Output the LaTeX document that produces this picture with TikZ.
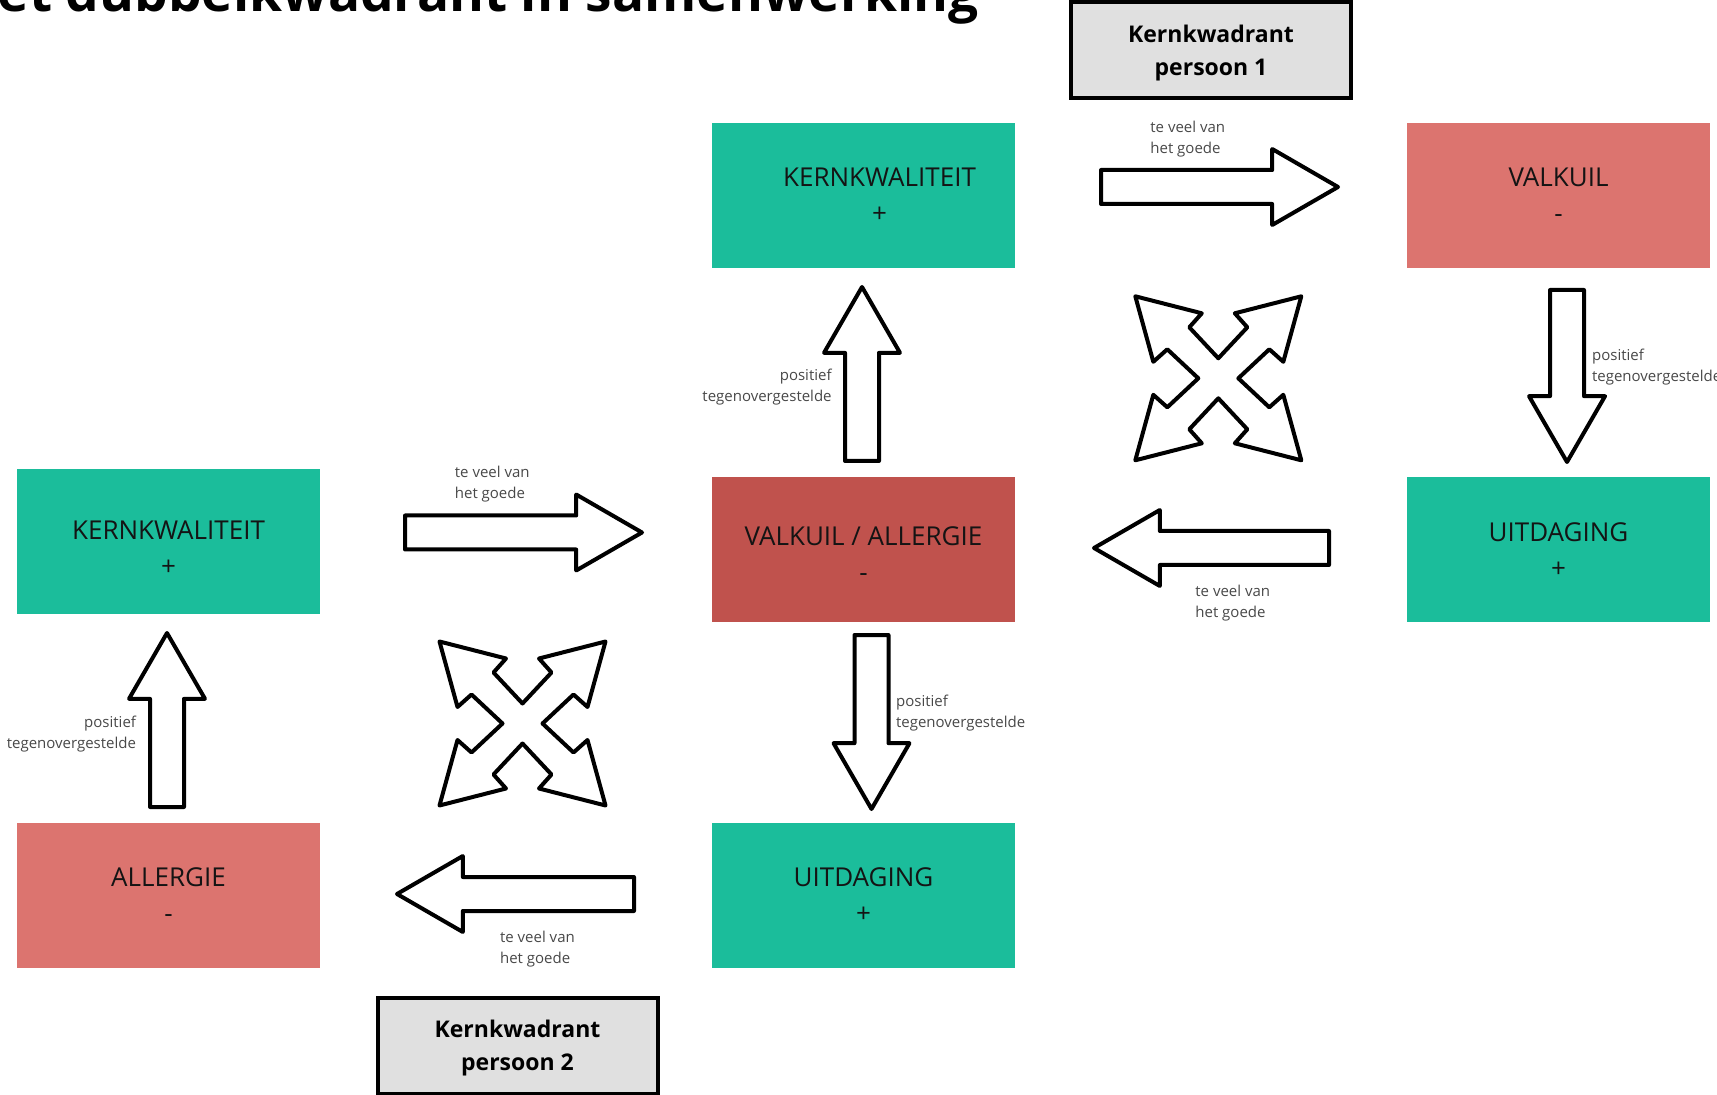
\documentclass[tikz,border=0pt]{standalone}
\usepackage{fontspec}
\setmainfont{Open Sans}
\usepackage{xcolor}
\usepackage{tikz}
\usetikzlibrary{shapes.arrows, calc}
\definecolor{kerngroen}{RGB}{27,189,155}
\definecolor{valkuilrood}{RGB}{220,116,111}
\definecolor{allergierood}{RGB}{192,82,77}
\definecolor{kadergrijs}{RGB}{224,224,224}
\definecolor{uitleggrijs}{RGB}{72,72,72}

\tikzset{
  kwadrant/.style={rectangle, minimum width=151.5pt, minimum height=72.5pt, inner sep=0pt},
  kwtekst/.style={align=center, inner sep=0pt, font=\fontsize{13}{18}\selectfont, text=black!92},
  kopkader/.style={rectangle, draw=black, line width=2pt, fill=kadergrijs, minimum width=140pt,
    minimum height=48pt, inner sep=0pt, text depth=0pt, align=center,
    font=\fontsize{11.5}{16.5}\selectfont\bfseries},
  blokpijl/.style={single arrow, draw=black, fill=white, line width=2pt, line join=round,
    inner sep=7.5pt, outer sep=0pt, minimum width=36pt, single arrow head extend=10.5pt,
    single arrow tip angle=60, anchor=tip},
  uitleg/.style={font=\fontsize{7.5}{10.5}\selectfont, text=uitleggrijs, inner sep=0pt}
}

\begin{document}
\begin{tikzpicture}[x=0.5pt, y=-0.5pt]
        % Page frame
        \useasboundingbox (0,0) rectangle (1717,1095);
        \clip (0,0) rectangle (1717,1095);

        % Title (cut off at the top)
        \node[anchor=base east, inner sep=0pt, font=\fontsize{26.6}{30}\selectfont\bfseries] (titel) at (979,11.5)
            {Het dubbelkwadrant in samenwerking};

        % Headers
        \node[kopkader] (kop1) at (1211,50) {Kernkwadrant\\persoon 1};
        \node[kopkader] (kop2) at (517.5,1045.5) {Kernkwadrant\\persoon 2};

        % Quadrant boxes, person 1
        \node[kwadrant, fill=kerngroen] (kern1) at (863.5,195.5) {};
        \node[kwadrant, fill=valkuilrood] (valkuil1) at (1558.5,195.5) {};
        \node[kwadrant, fill=allergierood] (valkuil2) at (863.5,550) {};
        \node[kwadrant, fill=kerngroen] (uitdaging1) at (1558.5,550) {};

        % Quadrant boxes, person 2
        \node[kwadrant, fill=kerngroen] (kern2) at (168.5,541.5) {};
        \node[kwadrant, fill=valkuilrood] (allergie2) at (168.5,895.5) {};
        \node[kwadrant, fill=kerngroen] (uitdaging2) at (863.5,895.5) {};

        % Box texts
        \node[kwtekst] (kern1tekst) at (879.5,195.5) {KERNKWALITEIT\\+};
        \node[kwtekst] (valkuil1tekst) at (valkuil1) {VALKUIL\\-};
        \node[kwtekst] (valkuil2tekst) at (863.5,554.5) {VALKUIL / ALLERGIE\\-};
        \node[kwtekst] (uitdaging1tekst) at (uitdaging1) {UITDAGING\\+};
        \node[kwtekst] (kern2tekst) at (168.5,548) {KERNKWALITEIT\\+};
        \node[kwtekst] (allergie2tekst) at (allergie2) {ALLERGIE\\-};
        \node[kwtekst] (uitdaging2tekst) at (uitdaging2) {UITDAGING\\+};

        % Block arrows (placed by their tips)
        \node[blokpijl, minimum height=118.5pt] (pijl1) at (1338,187) {};
        \node[blokpijl, minimum height=118.5pt] (pijl2) at (642,532.5) {};
        \node[blokpijl, minimum height=117.5pt, shape border rotate=180] (pijl3) at (1094,548) {};
        \node[blokpijl, minimum height=118.5pt, shape border rotate=180] (pijl4) at (397,894) {};
        \node[blokpijl, minimum height=87pt, shape border rotate=90] (pijl5) at (862,287) {};
        \node[blokpijl, minimum height=86pt, shape border rotate=270] (pijl6) at (1567,462) {};
        \node[blokpijl, minimum height=87pt, shape border rotate=270] (pijl7) at (871.5,809) {};
        \node[blokpijl, minimum height=87pt, shape border rotate=90] (pijl8) at (167,633) {};

        % Four-way arrows
        \foreach \cx/\cy in {1218.3/378.3, 522.5/723.5}
            \draw[line width=2pt, line join=round, fill=white, shift={(\cx,\cy)}]
                (-83,-82) -- (-16.5,-65) -- (-29,-51) -- (0,-20) -- (29,-51) -- (16.5,-65) -- (83,-82)
                -- (65,-16.5) -- (51,-29) -- (20,0) -- (51,29) -- (65,16.5) -- (83,82)
                -- (16.5,65) -- (29,51) -- (0,20) -- (-29,51) -- (-16.5,65) -- (-83,82)
                -- (-65,16.5) -- (-51,29) -- (-20,0) -- (-51,-29) -- (-65,-16.5) -- cycle;

        % Arrow labels (anchored at the second line)
        \node[uitleg, anchor=base west, align=left] (tekst1) at (1150,153.3) {te veel van\\het goede};
        \node[uitleg, anchor=base west, align=left] (tekst2) at (454.5,499) {te veel van\\het goede};
        \node[uitleg, anchor=base west, align=left] (tekst3) at (1195,617.7) {te veel van\\het goede};
        \node[uitleg, anchor=base west, align=left] (tekst4) at (499.7,963.3) {te veel van\\het goede};
        \node[uitleg, anchor=base east, align=right] (tekst5) at (832,402) {positief\\tegenovergestelde};
        \node[uitleg, anchor=base west, align=left] (tekst6) at (1591.7,381.7) {positief\\tegenovergestelde};
        \node[uitleg, anchor=base west, align=left] (tekst7) at (895.7,727.3) {positief\\tegenovergestelde};
        \node[uitleg, anchor=base east, align=right] (tekst8) at (136.4,748) {positief\\tegenovergestelde};
\end{tikzpicture}
\end{document}
